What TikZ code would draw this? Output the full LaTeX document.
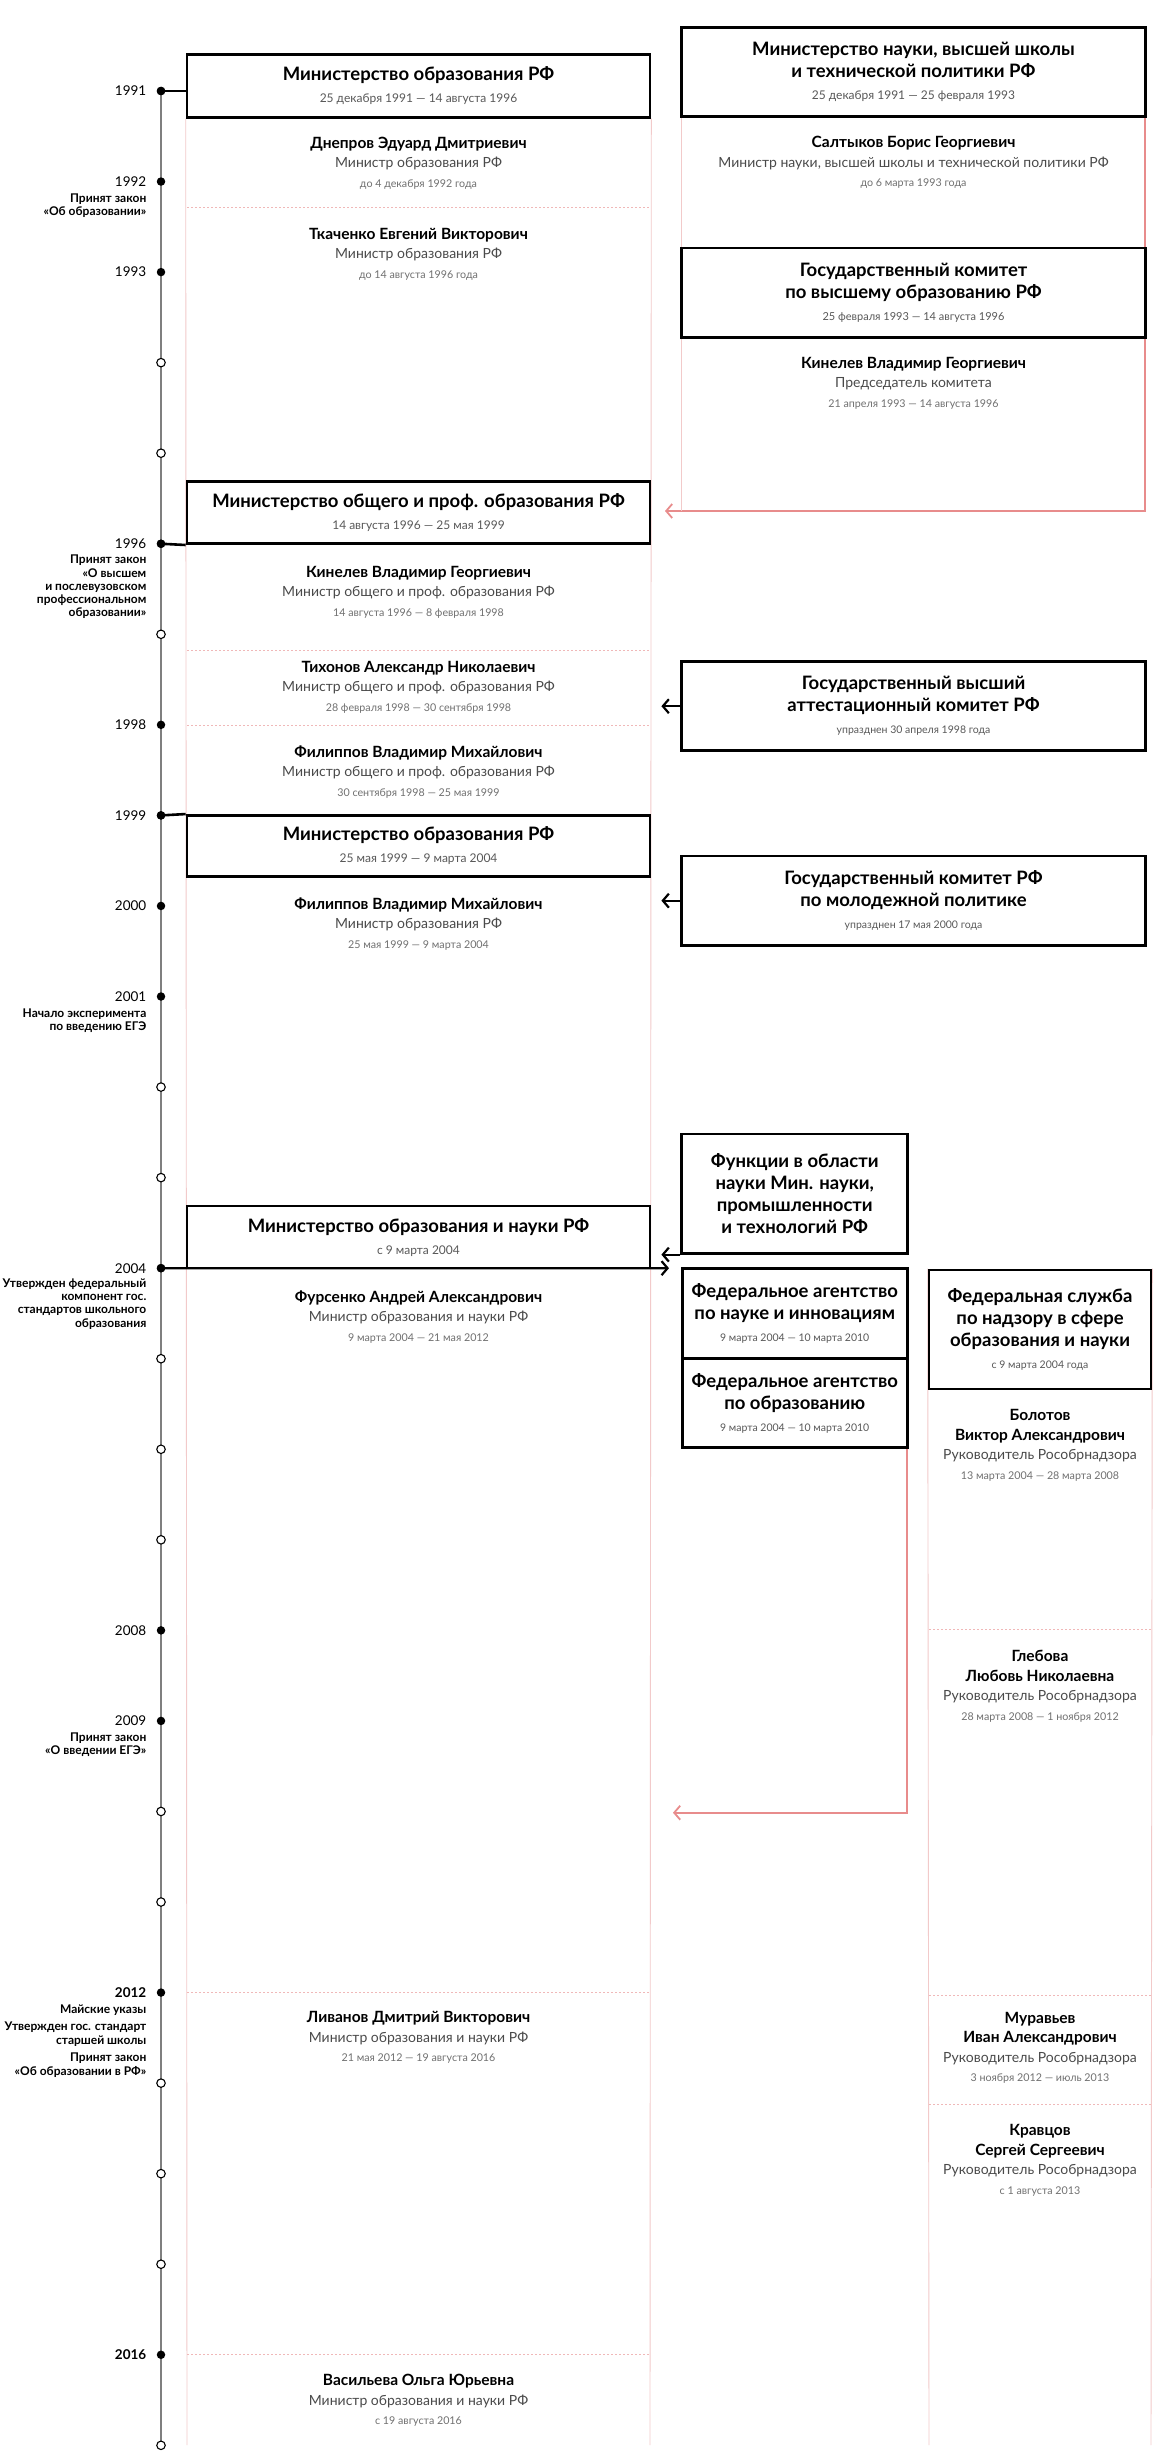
\documentclass[tikz,border=0pt]{standalone}
\usepackage{fontspec}
\setmainfont{Lato}
\usetikzlibrary{arrows.meta}
\pgfdeclarelayer{bg}
\pgfsetlayers{bg,main}

\definecolor{pinkline}{HTML}{F2CACA}
\definecolor{pinkdash}{HTML}{F0B8B8}
\definecolor{redline}{HTML}{E88C8C}
\definecolor{tlgray}{HTML}{7F7F7F}
\definecolor{roleclr}{HTML}{4A4A4A}
\definecolor{dateclr}{HTML}{707070}
\definecolor{boxdate}{HTML}{585858}

\newcommand{\tB}[1]{{\fontsize{18.5}{22}\selectfont\bfseries #1}}
\newcommand{\tD}[2][12]{{\fontsize{#1}{22}\selectfont\color{boxdate}#2}}
\newcommand{\pN}[1]{{\fontsize{15.5}{19.5}\selectfont\bfseries #1}}
\newcommand{\pR}[1]{{\fontsize{14}{19.5}\selectfont\color{roleclr}#1}}
\newcommand{\pD}[1]{{\fontsize{10.7}{19.5}\selectfont\color{dateclr}#1}}

\tikzset{
  box/.style={draw=black, line width=2.6, fill=white, inner sep=0, align=center,
    font=\fontsize{12}{22}\selectfont},
  person/.style={align=center, inner sep=0, font=\fontsize{12}{19.5}\selectfont},
  yr/.style={anchor=east, inner sep=0, font=\fontsize{13.5}{15}\selectfont},
  lab/.style={anchor=east, align=right, inner sep=0, font=\bfseries\fontsize{12}{13.3}\selectfont},
  fdot/.style={circle, fill=black, minimum size=8.5, inner sep=0},
  odot/.style={circle, draw=black, fill=white, line width=1.1, minimum size=8.5, inner sep=0},
  conn/.style={draw=black, line width=2.6},
  arr/.style={draw=black, line width=2.2, -{Straight Barb[length=6,width=14,line width=2.2]}},
  redarr/.style={draw=redline, line width=1.8, -{Straight Barb[length=6,width=14,line width=1.8]}},
  thinpink/.style={draw=pinkline, line width=0.9},
  dashpink/.style={draw=pinkdash, line width=0.9, dash pattern=on 2pt off 2pt},
}

\begin{document}
\begin{tikzpicture}[x=1pt, y=-1pt]
\useasboundingbox (0,0) rectangle (1168,2462);
\begin{pgfonlayer}{bg}
  \fill[white] (0,0) rectangle (1168,2462);
\end{pgfonlayer}

% ---------------- timeline dots ----------------
\foreach \yy in {1991,1992,1993,1996,1998,1999,2000,2001,2004,2008,2009,2012,2016}
  \node[fdot] (d\yy) at (161,{91+(\yy-1991)*90.55}) {};
\foreach \yy in {1994,1995,1997,2002,2003,2005,2006,2007,2010,2011,2013,2014,2015,2017}
  \node[odot] (d\yy) at (161,{91+(\yy-1991)*90.55}) {};

% ---------------- year labels ----------------
\foreach \yy in {1991,1992,1993,1996,1998,1999,2000,2001,2004,2008,2009}
  \node[yr] (y\yy) at (146.5,{91+(\yy-1991)*90.55}) {\yy};
\node[yr, font=\bfseries\fontsize{13.5}{15}\selectfont] (y2012) at (146.5,1992.55) {2012};
\node[yr, font=\bfseries\fontsize{13.5}{15}\selectfont] (y2016) at (146.5,2354.75) {2016};

\node[lab] (l1992) at (146.5,205.5) {Принят закон\\«Об образовании»};
\node[lab] (l1996) at (146.5,587) {Принят закон\\«О высшем\\и послевузовском\\профессиональном\\образовании»};
\node[lab] (l2001) at (146.5,1020.5) {Начало эксперимента\\по введению ЕГЭ};
\node[lab] (l2004) at (146.5,1304) {Утвержден федеральный\\компонент гос.\\стандартов школьного\\образования};
\node[lab] (l2009) at (146.5,1745) {Принят закон\\«О введении ЕГЭ»};
\node[lab] (l2012a) at (146.5,2010) {Майские указы};
\node[lab] (l2012b) at (146.5,2034) {Утвержден гос. стандарт\\старшей школы};
\node[lab] (l2012c) at (146.5,2065) {Принят закон\\«Об образовании в РФ»};

% ---------------- left column boxes ----------------
\node[box, minimum width=463, minimum height=63] (m1) at (418.5,85.8)
  {\tB{Министерство образования РФ}\\\tD{25 декабря 1991 — 14 августа 1996}};
\node[box, minimum width=463, minimum height=62] (m2) at (418.5,512.7)
  {\tB{Министерство общего и проф. образования РФ}\\\tD{14 августа 1996 — 25 мая 1999}};
\node[box, minimum width=463, minimum height=61.3] (m3) at (418.5,846)
  {\tB{Министерство образования РФ}\\\tD{25 мая 1999 — 9 марта 2004}};
\node[box, minimum width=463, minimum height=62.1] (m4) at (418.5,1237.1)
  {\tB{Министерство образования и науки РФ}\\\tD{с 9 марта 2004}};

% ---------------- left column persons ----------------
\node[person] (p1) at (418.5,163) {\pN{Днепров Эдуард Дмитриевич}\\\pR{Министр образования РФ}\\\pD{до 4 декабря 1992 года}};
\node[person] (p2) at (418.5,254) {\pN{Ткаченко Евгений Викторович}\\\pR{Министр образования РФ}\\\pD{до 14 августа 1996 года}};
\node[person] (p3) at (418.5,592) {\pN{Кинелев Владимир Георгиевич}\\\pR{Министр общего и проф. образования РФ}\\\pD{14 августа 1996 — 8 февраля 1998}};
\node[person] (p4) at (418.5,687) {\pN{Тихонов Александр Николаевич}\\\pR{Министр общего и проф. образования РФ}\\\pD{28 февраля 1998 — 30 сентября 1998}};
\node[person] (p5) at (418.5,772) {\pN{Филиппов Владимир Михайлович}\\\pR{Министр общего и проф. образования РФ}\\\pD{30 сентября 1998 — 25 мая 1999}};
\node[person] (p6) at (418.5,924) {\pN{Филиппов Владимир Михайлович}\\\pR{Министр образования РФ}\\\pD{25 мая 1999 — 9 марта 2004}};
\node[person] (p7) at (418.5,1316.7) {\pN{Фурсенко Андрей Александрович}\\\pR{Министр образования и науки РФ}\\\pD{9 марта 2004 — 21 мая 2012}};
\node[person] (p8) at (418.5,2037.7) {\pN{Ливанов Дмитрий Викторович}\\\pR{Министр образования и науки РФ}\\\pD{21 мая 2012 — 19 августа 2016}};
\node[person] (p9) at (418.5,2400.7) {\pN{Васильева Ольга Юрьевна}\\\pR{Министр образования и науки РФ}\\\pD{с 19 августа 2016}};

% ---------------- right column ----------------
\coordinate (redc1) at (1145.3,511);
\coordinate (redt1) at (665,511);
\coordinate (pinkr1) at (681.7,511);
\coordinate (redc2) at (907.2,1812.7);
\coordinate (redt2) at (673,1812.7);
\begin{pgfonlayer}{bg}
  \draw[redarr] (1145.3,116.7) -- (redc1) -- (redt1);
  \draw[thinpink] (681.7,116.7) -- (pinkr1);
  \draw[redarr] (907.2,1447.7) -- (redc2) -- (redt2);
\end{pgfonlayer}

\node[box, minimum width=463.6, minimum height=89.4] (r1) at (913.5,72)
  {\tB{Министерство науки, высшей школы}\\\tB{и технической политики РФ}\\\tD{25 декабря 1991 — 25 февраля 1993}};
\node[person] (q1) at (913.5,162.7) {\pN{Салтыков Борис Георгиевич}\\\pR{Министр науки, высшей школы и технической политики РФ}\\\pD{до 6 марта 1993 года}};
\node[box, minimum width=463.6, minimum height=89.3] (r2) at (913.5,292.65)
  {\tB{Государственный комитет}\\\tB{по высшему образованию РФ}\\\tD[11]{25 февраля 1993 — 14 августа 1996}};
\node[person] (q2) at (913.5,383.3) {\pN{Кинелев Владимир Георгиевич}\\\pR{Председатель комитета}\\\pD{21 апреля 1993 — 14 августа 1996}};
\node[box, minimum width=463.6, minimum height=89] (r3) at (913.5,706.2)
  {\tB{Государственный высший}\\\tB{аттестационный комитет РФ}\\\tD[10.5]{упразднен 30 апреля 1998 года}};
\node[box, minimum width=463.6, minimum height=89.3] (r4) at (913.5,900.65)
  {\tB{Государственный комитет РФ}\\\tB{по молодежной политике}\\\tD[10.5]{упразднен 17 мая 2000 года}};
\node[box, minimum width=226, minimum height=119.3] (f) at (794.7,1193.65)
  {\tB{Функции в области}\\\tB{науки Мин. науки,}\\\tB{промышленности}\\\tB{и технологий РФ}};
\node[box, minimum width=225, minimum height=90] (a1) at (794.7,1313.3)
  {\tB{Федеральное агентство}\\\tB{по науке и инновациям}\\\tD[10.5]{9 марта 2004 — 10 марта 2010}};
\node[box, minimum width=225, minimum height=89.4] (a2) at (794.7,1403)
  {\tB{Федеральное агентство}\\\tB{по образованию}\\\tD[10.5]{9 марта 2004 — 10 марта 2010}};

% Rosobrnadzor column
\coordinate (sbl) at (929,2445);
\coordinate (sbr) at (1151,2445);
\node[box, minimum width=222, minimum height=119] (s) at (1040,1329.5)
  {\tB{Федеральная служба}\\\tB{по надзору в сфере}\\\tB{образования и науки}\\\tD[10.5]{с 9 марта 2004 года}};
\begin{pgfonlayer}{bg}
  \draw[thinpink] (s.north west) -- (sbl);
  \draw[thinpink] (s.north east) -- (sbr);
  \draw[dashpink] (929,1629.3) -- (1151,1629.3);
  \draw[dashpink] (929,1995) -- (1151,1995);
  \draw[dashpink] (929,2104) -- (1151,2104);
\end{pgfonlayer}
\node[person] (b1) at (1040,1445.5) {\pN{Болотов}\\\pN{Виктор Александрович}\\\pR{Руководитель Рособрнадзора}\\\pD{13 марта 2004 — 28 марта 2008}};
\node[person] (b2) at (1040,1686) {\pN{Глебова}\\\pN{Любовь Николаевна}\\\pR{Руководитель Рособрнадзора}\\\pD{28 марта 2008 — 1 ноября 2012}};
\node[person] (b3) at (1040,2048) {\pN{Муравьев}\\\pN{Иван Александрович}\\\pR{Руководитель Рособрнадзора}\\\pD{3 ноября 2012 — июль 2013}};
\node[person] (b4) at (1040,2160.5) {\pN{Кравцов}\\\pN{Сергей Сергеевич}\\\pR{Руководитель Рособрнадзора}\\\pD{с 1 августа 2013}};

% ---------------- background lines ----------------
\coordinate (lbl) at (187,2445);
\coordinate (lbr) at (650,2445);
\coordinate (a2004) at (669,1268.15);
\begin{pgfonlayer}{bg}
  \draw[tlgray, line width=2.4] (d1991.center) -- (d2017.center);
  \draw[thinpink] (m1.south west) -- (lbl);
  \draw[thinpink] (m1.south east) -- (lbr);
  \foreach \yy in {207,650,725,1992.55,2354.75}
    \draw[dashpink] (187,\yy) -- (650,\yy);
\end{pgfonlayer}

% ---------------- connectors ----------------
\draw[conn] (d1991.center) -- (d1991.center -| m1.west);
\draw[conn] (d1996.center) -- (m2.south west);
\draw[conn] (d1999.center) -- (m3.north west);
\draw[arr] (d2004.center) -- (a2004);
\draw[arr] (r3.west) -- ++(-19,0);
\draw[arr] (r4.west) -- ++(-19,0);
\draw[arr] (f.south west) -- ++(-19,0);

% redraw dots on top
\foreach \yy in {1991,1996,1999,2004}
  \fill (d\yy) circle (4.25);
\end{tikzpicture}
\end{document}
